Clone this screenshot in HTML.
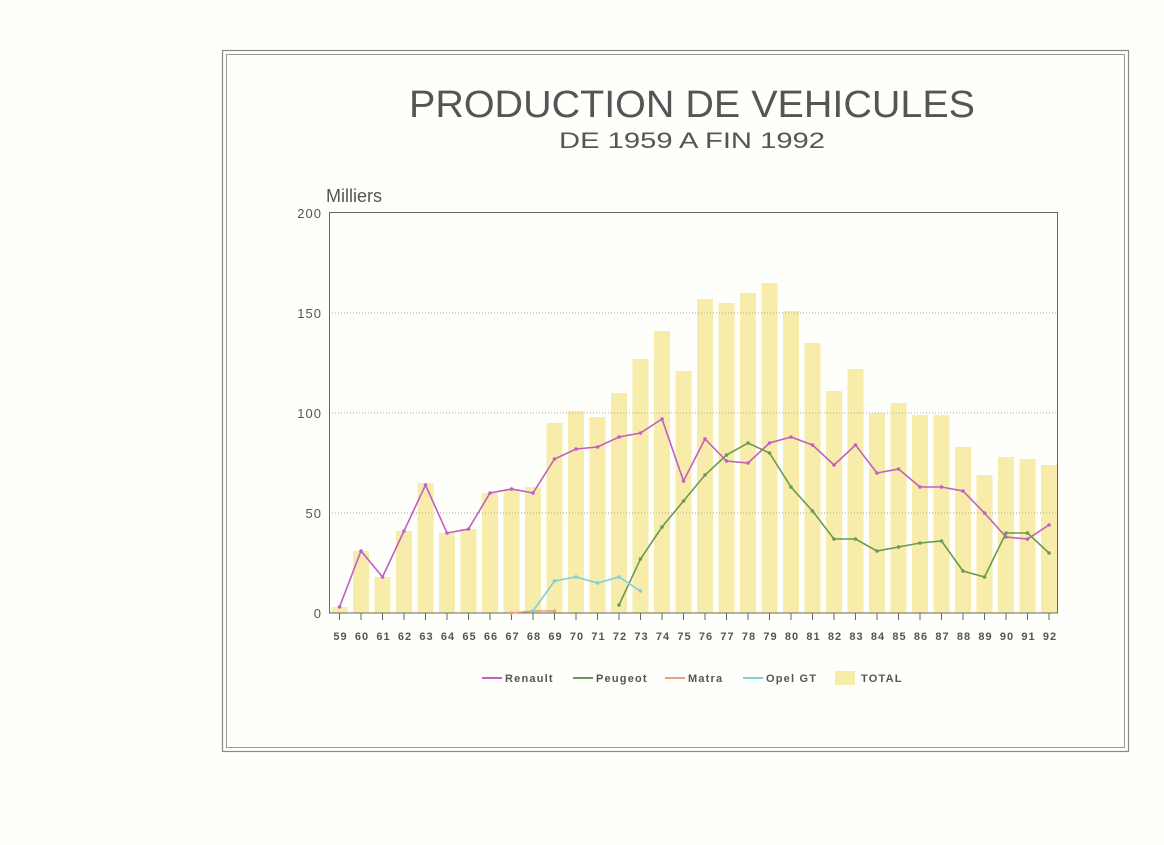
<!DOCTYPE html><html><head><style>body{margin:0;background:#fefefb}svg{display:block}text{font-family:"Liberation Sans",sans-serif;fill:#555}</style></head><body>
<svg width="1164" height="845" viewBox="0 0 1164 845">
<defs>
<marker id="mr" markerWidth="4" markerHeight="4" refX="2" refY="2" markerUnits="userSpaceOnUse"><circle cx="2" cy="2" r="1.8" fill="#c060c0"/></marker>
<marker id="mp" markerWidth="4" markerHeight="4" refX="2" refY="2" markerUnits="userSpaceOnUse"><circle cx="2" cy="2" r="1.8" fill="#6a9a50"/></marker>
<marker id="mm" markerWidth="4" markerHeight="4" refX="2" refY="2" markerUnits="userSpaceOnUse"><circle cx="2" cy="2" r="1.8" fill="#e8a080"/></marker>
<marker id="mo" markerWidth="4" markerHeight="4" refX="2" refY="2" markerUnits="userSpaceOnUse"><circle cx="2" cy="2" r="1.8" fill="#80d0d8"/></marker>
</defs>
<rect x="0" y="0" width="1164" height="845" fill="#fefefb"/>
<rect x="222.5" y="50.5" width="906" height="701" fill="none" stroke="#888" stroke-width="1.2"/>
<rect x="226.5" y="54.5" width="898" height="693" fill="none" stroke="#999" stroke-width="1"/>
<text x="692" y="117" font-size="38" text-anchor="middle" fill="#666" textLength="566" lengthAdjust="spacingAndGlyphs">PRODUCTION DE VEHICULES</text>
<text x="692" y="148" font-size="22" text-anchor="middle" fill="#666" textLength="266" lengthAdjust="spacingAndGlyphs">DE 1959 A FIN 1992</text>
<text x="326" y="202" font-size="18" fill="#555">Milliers</text>
<g fill="#f8ecaa">
<rect x="331.5" y="607" width="16" height="6"/><rect x="353" y="551" width="16" height="62"/><rect x="374.5" y="577" width="16" height="36"/><rect x="396" y="531" width="16" height="82"/><rect x="417.5" y="483" width="16" height="130"/><rect x="439" y="533" width="16" height="80"/><rect x="460.5" y="529" width="16" height="84"/><rect x="482" y="493" width="16" height="120"/><rect x="503.5" y="489" width="16" height="124"/><rect x="525" y="487" width="16" height="126"/><rect x="546.5" y="423" width="16" height="190"/><rect x="568" y="411" width="16" height="202"/><rect x="589.5" y="417" width="16" height="196"/><rect x="611" y="393" width="16" height="220"/><rect x="632.5" y="359" width="16" height="254"/><rect x="654" y="331" width="16" height="282"/><rect x="675.5" y="371" width="16" height="242"/><rect x="697" y="299" width="16" height="314"/><rect x="718.5" y="303" width="16" height="310"/><rect x="740" y="293" width="16" height="320"/><rect x="761.5" y="283" width="16" height="330"/><rect x="783" y="311" width="16" height="302"/><rect x="804.5" y="343" width="16" height="270"/><rect x="826" y="391" width="16" height="222"/><rect x="847.5" y="369" width="16" height="244"/><rect x="869" y="413" width="16" height="200"/><rect x="890.5" y="403" width="16" height="210"/><rect x="912" y="415" width="16" height="198"/><rect x="933.5" y="415" width="16" height="198"/><rect x="955" y="447" width="16" height="166"/><rect x="976.5" y="475" width="16" height="138"/><rect x="998" y="457" width="16" height="156"/><rect x="1019.5" y="459" width="16" height="154"/><rect x="1041" y="465" width="16" height="148"/>
</g>
<g stroke="#aaa" stroke-dasharray="1 2" stroke-width="1"><line x1="329" y1="513" x2="1058" y2="513"/><line x1="329" y1="413" x2="1058" y2="413"/><line x1="329" y1="313" x2="1058" y2="313"/></g>
<rect x="329.5" y="212.5" width="728" height="400.5" fill="none" stroke="#666" stroke-width="1"/>
<g font-size="13" text-anchor="end" letter-spacing="1"><text x="322" y="218">200</text><text x="322" y="318">150</text><text x="322" y="418">100</text><text x="322" y="518">50</text><text x="322" y="618">0</text></g>
<g stroke="#666"><line x1="339.5" y1="613" x2="339.5" y2="620"/><line x1="361" y1="613" x2="361" y2="620"/><line x1="382.5" y1="613" x2="382.5" y2="620"/><line x1="404" y1="613" x2="404" y2="620"/><line x1="425.5" y1="613" x2="425.5" y2="620"/><line x1="447" y1="613" x2="447" y2="620"/><line x1="468.5" y1="613" x2="468.5" y2="620"/><line x1="490" y1="613" x2="490" y2="620"/><line x1="511.5" y1="613" x2="511.5" y2="620"/><line x1="533" y1="613" x2="533" y2="620"/><line x1="554.5" y1="613" x2="554.5" y2="620"/><line x1="576" y1="613" x2="576" y2="620"/><line x1="597.5" y1="613" x2="597.5" y2="620"/><line x1="619" y1="613" x2="619" y2="620"/><line x1="640.5" y1="613" x2="640.5" y2="620"/><line x1="662" y1="613" x2="662" y2="620"/><line x1="683.5" y1="613" x2="683.5" y2="620"/><line x1="705" y1="613" x2="705" y2="620"/><line x1="726.5" y1="613" x2="726.5" y2="620"/><line x1="748" y1="613" x2="748" y2="620"/><line x1="769.5" y1="613" x2="769.5" y2="620"/><line x1="791" y1="613" x2="791" y2="620"/><line x1="812.5" y1="613" x2="812.5" y2="620"/><line x1="834" y1="613" x2="834" y2="620"/><line x1="855.5" y1="613" x2="855.5" y2="620"/><line x1="877" y1="613" x2="877" y2="620"/><line x1="898.5" y1="613" x2="898.5" y2="620"/><line x1="920" y1="613" x2="920" y2="620"/><line x1="941.5" y1="613" x2="941.5" y2="620"/><line x1="963" y1="613" x2="963" y2="620"/><line x1="984.5" y1="613" x2="984.5" y2="620"/><line x1="1006" y1="613" x2="1006" y2="620"/><line x1="1027.5" y1="613" x2="1027.5" y2="620"/><line x1="1049" y1="613" x2="1049" y2="620"/></g>
<g font-size="11" font-weight="bold" text-anchor="middle" letter-spacing="1" fill="#555"><text x="340.5" y="640">59</text><text x="362" y="640">60</text><text x="383.5" y="640">61</text><text x="405" y="640">62</text><text x="426.5" y="640">63</text><text x="448" y="640">64</text><text x="469.5" y="640">65</text><text x="491" y="640">66</text><text x="512.5" y="640">67</text><text x="534" y="640">68</text><text x="555.5" y="640">69</text><text x="577" y="640">70</text><text x="598.5" y="640">71</text><text x="620" y="640">72</text><text x="641.5" y="640">73</text><text x="663" y="640">74</text><text x="684.5" y="640">75</text><text x="706" y="640">76</text><text x="727.5" y="640">77</text><text x="749" y="640">78</text><text x="770.5" y="640">79</text><text x="792" y="640">80</text><text x="813.5" y="640">81</text><text x="835" y="640">82</text><text x="856.5" y="640">83</text><text x="878" y="640">84</text><text x="899.5" y="640">85</text><text x="921" y="640">86</text><text x="942.5" y="640">87</text><text x="964" y="640">88</text><text x="985.5" y="640">89</text><text x="1007" y="640">90</text><text x="1028.5" y="640">91</text><text x="1050" y="640">92</text></g>
<polyline fill="none" stroke="#c060c0" stroke-width="1.6" marker-start="url(#mr)" marker-mid="url(#mr)" marker-end="url(#mr)" points="339.5,607 361,551 382.5,577 404,531 425.5,485 447,533 468.5,529 490,493 511.5,489 533,493 554.5,459 576,449 597.5,447 619,437 640.5,433 662,419 683.5,481 705,439 726.5,461 748,463 769.5,443 791,437 812.5,445 834,465 855.5,445 877,473 898.5,469 920,487 941.5,487 963,491 984.5,513 1006,537 1027.5,539 1049,525"/>
<polyline fill="none" stroke="#6a9a50" stroke-width="1.6" marker-start="url(#mp)" marker-mid="url(#mp)" marker-end="url(#mp)" points="619,605 640.5,559 662,527 683.5,501 705,475 726.5,455 748,443 769.5,453 791,487 812.5,511 834,539 855.5,539 877,551 898.5,547 920,543 941.5,541 963,571 984.5,577 1006,533 1027.5,533 1049,553"/>
<polyline fill="none" stroke="#e8a080" stroke-width="1.6" marker-start="url(#mm)" marker-mid="url(#mm)" marker-end="url(#mm)" points="511.5,613 533,611 554.5,611"/>
<polyline fill="none" stroke="#80d0d8" stroke-width="1.6" marker-start="url(#mo)" marker-mid="url(#mo)" marker-end="url(#mo)" points="533,611 554.5,581 576,577 597.5,583 619,577 640.5,591"/>
<g font-size="11" font-weight="bold" letter-spacing="1.2" fill="#555">
<line x1="482" y1="678" x2="502" y2="678" stroke="#c060c0" stroke-width="2"/><text x="505" y="682">Renault</text>
<line x1="573" y1="678" x2="593" y2="678" stroke="#6a9a50" stroke-width="2"/><text x="596" y="682">Peugeot</text>
<line x1="665" y1="678" x2="685" y2="678" stroke="#e8a080" stroke-width="2"/><text x="688" y="682">Matra</text>
<line x1="743" y1="678" x2="763" y2="678" stroke="#80d0d8" stroke-width="2"/><text x="766" y="682">Opel GT</text>
<rect x="835" y="671" width="20" height="14" fill="#f8ecaa"/><text x="861" y="682">TOTAL</text>
</g>
</svg></body></html>
